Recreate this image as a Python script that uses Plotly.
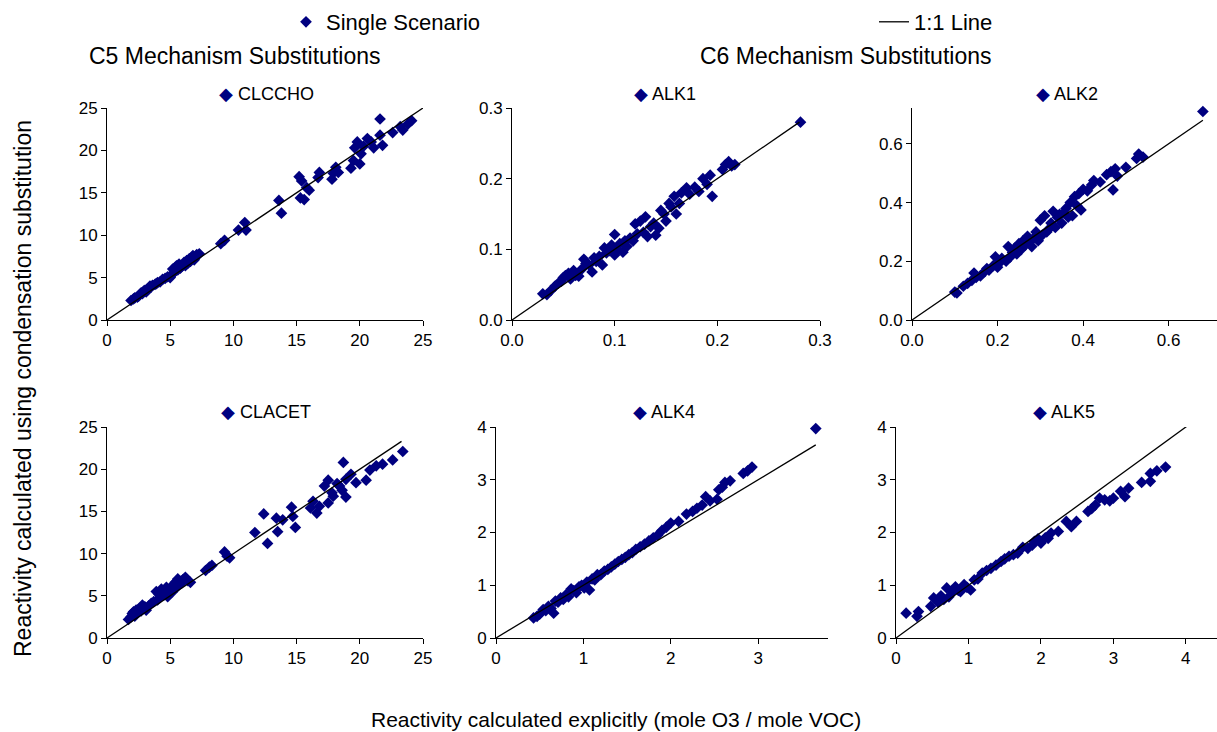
import plotly.graph_objects as go

W, H = 1217, 732

panel_names = ["CLCCHO", "ALK1", "ALK2", "CLACET", "ALK4", "ALK5"]

clccho_x = [1.9,2.1,2.2,2.4,2.5,2.6,2.7,2.8,2.9,3.0,3.1,3.2,3.3,3.4,3.5,3.6,3.8,3.9,4.0,4.2,4.4,4.6,4.8,5.0,5.1,5.2,5.3,5.4,5.5,5.6,5.7,5.8,5.9,6.0,6.1,6.2,6.3,6.4,6.5,6.6,6.7,6.8,6.9,7.0,7.1,7.3,
            9.0,9.3,10.4,10.9,11.0,13.6,13.8,15.2,15.4,15.3,15.6,15.8,16.0,16.8,16.7,17.8,17.9,18.1,18.3,19.3,19.5,19.6,19.8,20.0,20.1,20.3,20.6,20.9,21.1,21.6,21.6,21.8,22.6,23.2,23.4,23.8,24.1]
clccho_y = [2.3,2.5,2.6,2.7,2.8,3.0,3.2,3.1,3.4,3.5,3.3,3.6,3.7,4.0,3.9,4.1,4.2,4.3,4.4,4.5,4.8,4.9,5.1,5.0,5.3,6.0,5.6,6.2,6.4,5.9,6.6,6.1,6.3,6.5,6.8,6.4,7.0,6.7,7.2,6.9,7.4,7.6,7.1,7.5,7.7,7.8,
            9.0,9.4,10.6,11.5,10.6,14.1,12.6,16.9,16.4,14.4,14.2,15.6,15.3,17.4,16.8,16.6,17.3,18.0,17.4,17.9,18.8,20.3,21.0,18.4,19.6,20.5,21.4,21.0,20.3,23.7,21.8,20.6,22.1,22.8,22.4,23.1,23.5]

alk1_x = [0.030,0.034,0.038,0.042,0.045,0.048,0.050,0.052,0.055,0.057,0.060,0.062,0.065,0.068,0.070,0.072,0.075,0.078,0.080,0.082,0.085,0.088,0.090,0.092,0.095,0.097,0.100,0.100,0.103,0.105,0.108,0.110,0.112,0.115,0.118,0.120,0.122,0.125,0.128,0.130,0.132,0.135,0.138,0.140,0.143,0.145,0.148,0.150,0.153,0.155,0.158,0.160,0.163,0.165,0.170,0.173,0.178,0.182,0.186,0.190,0.193,0.195,0.205,0.208,0.211,0.214,0.217,0.281]
alk1_y = [0.037,0.036,0.042,0.048,0.052,0.055,0.060,0.063,0.066,0.058,0.070,0.063,0.062,0.072,0.086,0.080,0.078,0.068,0.088,0.083,0.090,0.078,0.102,0.095,0.098,0.106,0.121,0.092,0.100,0.108,0.096,0.112,0.104,0.116,0.112,0.136,0.122,0.140,0.124,0.146,0.118,0.132,0.137,0.120,0.130,0.155,0.150,0.140,0.165,0.160,0.175,0.150,0.165,0.180,0.187,0.178,0.188,0.182,0.200,0.192,0.205,0.175,0.213,0.220,0.224,0.218,0.220,0.280]

alk2_x = [0.100,0.105,0.120,0.130,0.140,0.145,0.150,0.160,0.170,0.175,0.180,0.190,0.195,0.200,0.205,0.210,0.220,0.225,0.230,0.235,0.240,0.245,0.250,0.255,0.260,0.265,0.270,0.275,0.280,0.285,0.290,0.295,0.300,0.305,0.310,0.315,0.320,0.325,0.330,0.335,0.340,0.345,0.350,0.355,0.360,0.365,0.370,0.375,0.380,0.385,0.390,0.395,0.400,0.410,0.420,0.425,0.440,0.455,0.465,0.470,0.475,0.480,0.500,0.525,0.530,0.540,0.680]
alk2_y = [0.095,0.092,0.115,0.125,0.135,0.160,0.145,0.150,0.165,0.175,0.170,0.185,0.215,0.180,0.195,0.210,0.200,0.250,0.215,0.230,0.245,0.225,0.260,0.240,0.270,0.255,0.285,0.265,0.250,0.280,0.300,0.270,0.340,0.290,0.355,0.300,0.310,0.330,0.370,0.315,0.350,0.360,0.330,0.365,0.380,0.350,0.400,0.355,0.420,0.390,0.430,0.375,0.445,0.440,0.460,0.475,0.470,0.495,0.505,0.443,0.515,0.490,0.520,0.550,0.565,0.555,0.710]

clacet_x = [1.7,1.9,2.0,2.1,2.2,2.3,2.4,2.5,2.7,2.8,2.9,3.0,3.1,3.3,3.5,3.7,3.9,4.0,4.1,4.2,4.3,4.5,4.6,4.7,4.8,4.9,5.0,5.2,5.3,5.4,5.5,5.6,5.7,5.8,5.9,6.0,6.2,6.4,6.6,
            7.8,8.1,8.3,9.3,9.5,9.7,11.7,12.4,12.7,13.4,13.5,13.9,14.6,14.7,14.9,16.1,16.3,16.6,16.8,17.2,17.5,17.5,17.8,17.9,18.2,18.4,18.6,18.7,18.9,18.9,19.3,19.7,20.5,20.8,21.3,21.8,22.6,23.4]
clacet_y = [2.2,2.5,2.9,3.1,2.6,3.3,3.0,3.4,3.2,3.9,3.5,3.7,3.3,3.8,4.1,4.3,5.5,4.5,5.2,4.8,5.8,5.1,5.6,6.0,4.9,5.4,5.9,5.5,6.4,6.6,6.0,7.0,6.3,6.7,6.5,6.9,7.2,6.8,6.6,
            8.0,8.4,8.6,10.2,9.7,9.5,12.5,14.7,11.2,14.2,12.6,14.0,15.5,14.4,13.1,15.4,16.2,14.8,15.6,18.0,18.7,16.0,17.2,16.8,18.3,18.0,17.5,20.8,18.8,16.7,19.4,18.4,18.7,19.9,20.4,20.6,21.1,22.1]

alk4_x = [0.43,0.47,0.50,0.54,0.57,0.60,0.63,0.66,0.68,0.71,0.74,0.77,0.80,0.83,0.86,0.89,0.92,0.95,0.98,1.01,1.04,1.07,1.10,1.13,1.16,1.20,1.24,1.28,1.32,1.36,1.40,1.44,1.48,1.52,1.56,1.60,1.65,1.70,1.75,1.80,1.85,1.90,1.95,2.00,2.09,2.18,2.25,2.30,2.36,2.40,2.45,2.53,2.55,2.59,2.62,2.68,2.83,2.88,2.93,3.66]
alk4_y = [0.38,0.41,0.45,0.54,0.52,0.60,0.56,0.47,0.70,0.68,0.76,0.73,0.82,0.78,0.93,0.90,0.86,0.97,1.00,0.95,1.06,0.91,1.12,1.10,1.20,1.20,1.27,1.30,1.35,1.40,1.45,1.49,1.53,1.58,1.62,1.68,1.73,1.78,1.84,1.90,1.95,2.04,2.10,2.18,2.21,2.35,2.40,2.46,2.52,2.68,2.60,2.63,2.81,2.86,2.95,2.98,3.12,3.17,3.24,3.97]

alk5_x = [0.14,0.29,0.31,0.48,0.52,0.58,0.62,0.66,0.70,0.73,0.78,0.82,0.86,0.89,0.94,0.98,1.03,1.08,1.13,1.19,1.25,1.31,1.38,1.45,1.50,1.56,1.62,1.68,1.75,1.82,1.88,1.91,1.96,2.00,2.06,2.10,2.14,2.24,2.35,2.42,2.49,2.65,2.70,2.75,2.81,2.88,2.95,3.00,3.10,3.16,3.21,3.39,3.51,3.51,3.60,3.72,4.46]
alk5_y = [0.47,0.41,0.50,0.60,0.76,0.68,0.80,0.73,0.95,0.78,0.88,0.97,0.90,0.88,1.01,0.96,0.91,1.10,1.12,1.23,1.28,1.32,1.38,1.45,1.50,1.55,1.58,1.61,1.72,1.70,1.76,1.83,1.88,1.80,1.90,1.89,1.99,2.02,2.21,2.11,2.21,2.40,2.45,2.52,2.65,2.62,2.60,2.65,2.78,2.68,2.84,2.95,2.97,3.12,3.17,3.24,3.97]

line_max = [25, 0.28, 0.68, 23.3, 3.66, 4.1]

xs = [clccho_x, alk1_x, alk2_x, clacet_x, alk4_x, alk5_x]
ys = [clccho_y, alk1_y, alk2_y, clacet_y, alk4_y, alk5_y]

x_ranges = [[0, 25], [0, 0.3], [0, 0.713], [0, 25], [0, 3.8], [0, 4.43]]
y_ranges = [[0, 25], [0, 0.3], [0, 0.722], [0, 25], [0, 4], [0, 4]]
dticks = [5, 0.1, 0.2, 5, 1, 1]
tickfmts = ["d", ".1f", ".1f", "d", "d", "d"]

# pixel boxes (left, right, top, bottom)
boxes = [(107, 423, 108, 320), (512, 820, 108, 320), (912, 1217, 108, 320),
         (107, 423, 427, 638), (496, 828, 427, 638), (896, 1217, 427, 638)]
title_pos = [(266, 94), (665, 94), (1067, 94), (266, 412), (664, 412), (1064, 412)]

NAVY = "#000080"
FONT = "Liberation Sans, Arial, sans-serif"

fig = go.Figure()
for i in range(6):
    ax = "" if i == 0 else str(i + 1)
    fig.add_trace(go.Scatter(
        x=xs[i], y=ys[i], mode="markers", xaxis="x" + ax, yaxis="y" + ax,
        marker=dict(symbol="diamond", size=9, color=NAVY, line=dict(width=0)),
        name="Single Scenario", showlegend=(i == 0), legend="legend",
        cliponaxis=False))
    fig.add_trace(go.Scatter(
        x=[0, line_max[i]], y=[0, line_max[i]], mode="lines", xaxis="x" + ax, yaxis="y" + ax,
        line=dict(color="black", width=1.3),
        name="1:1 Line", showlegend=(i == 0), legend="legend2"))

layout = dict(
    width=W, height=H, margin=dict(l=0, r=0, t=0, b=0, autoexpand=False),
    paper_bgcolor="white", plot_bgcolor="white",
    font=dict(family=FONT, size=17, color="black"),
    legend=dict(x=286 / W, y=1 - 22 / H, xanchor="left", yanchor="middle",
                font=dict(size=22), bgcolor="rgba(0,0,0,0)", itemwidth=30),
    legend2=dict(x=874 / W, y=1 - 22 / H, xanchor="left", yanchor="middle",
                 font=dict(size=22), bgcolor="rgba(0,0,0,0)", itemwidth=30),
)

for i in range(6):
    l, r, t, b = boxes[i]
    ax = "" if i == 0 else str(i + 1)
    common = dict(showline=True, linecolor="black", linewidth=1, ticks="outside",
                  ticklen=5, tickcolor="black", showgrid=False, zeroline=False,
                  automargin=False, tickfont=dict(size=17, family=FONT, color="black"))
    layout["xaxis" + ax] = dict(domain=[l / W, r / W], range=x_ranges[i], dtick=dticks[i], tick0=0,
                                tickformat=tickfmts[i], anchor="y" + ax, **common)
    layout["yaxis" + ax] = dict(domain=[1 - b / H, 1 - t / H], range=y_ranges[i], dtick=dticks[i], tick0=0,
                                tickformat=tickfmts[i], anchor="x" + ax, **common)

annotations = []
for i in range(6):
    px, py = title_pos[i]
    annotations.append(dict(
        text=f"<span style='color:{NAVY}'>◆</span> {panel_names[i]}",
        x=px / W, y=1 - py / H, xref="paper", yref="paper", showarrow=False,
        xanchor="center", yanchor="middle", font=dict(size=18, family=FONT, color="black")))

annotations += [
    dict(text="C5 Mechanism Substitutions", x=235 / W, y=1 - 56 / H, xref="paper", yref="paper",
         showarrow=False, xanchor="center", yanchor="middle", font=dict(size=23, family=FONT)),
    dict(text="C6 Mechanism Substitutions", x=845 / W, y=1 - 56 / H, xref="paper", yref="paper",
         showarrow=False, xanchor="center", yanchor="middle", font=dict(size=23, family=FONT)),
    dict(text="Reactivity calculated explicitly (mole O3 / mole VOC)", x=616 / W, y=1 - 719 / H,
         xref="paper", yref="paper", showarrow=False, xanchor="center", yanchor="middle",
         font=dict(size=21, family=FONT)),
    dict(text="Reactivity calculated using condensation substitution", x=23 / W, y=1 - 389 / H,
         xref="paper", yref="paper", showarrow=False, xanchor="center", yanchor="middle",
         textangle=-90, font=dict(size=23, family=FONT)),
]
layout["annotations"] = annotations

fig.update_layout(**layout)
fig.write_html("out.html")
